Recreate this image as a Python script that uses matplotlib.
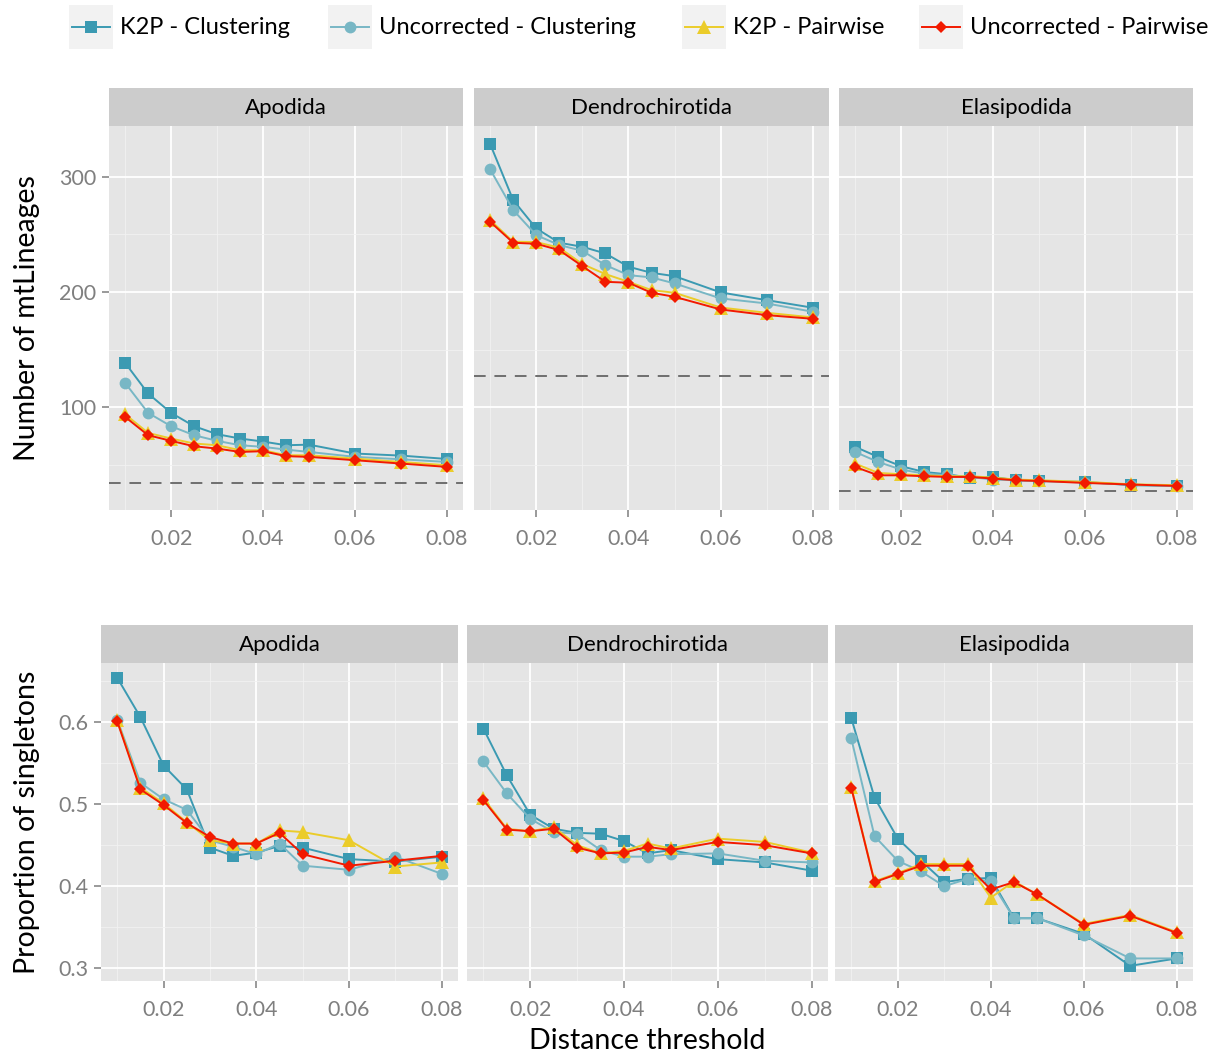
import matplotlib
matplotlib.use("Agg")
import matplotlib.pyplot as plt
from matplotlib.patches import Rectangle
from matplotlib.lines import Line2D
from matplotlib.ticker import FixedLocator

plt.rcParams['font.family'] = ['Lato', 'DejaVu Sans']

# distance thresholds
thresholds = [0.01, 0.015, 0.02, 0.025, 0.03, 0.035, 0.04, 0.045, 0.05, 0.06, 0.07, 0.08]
orders = ["Apodida", "Dendrochirotida", "Elasipodida"]
series = ["K2P - Clustering", "Uncorrected - Clustering", "K2P - Pairwise", "Uncorrected - Pairwise"]

# number of mtLineages
lin_apo_k2p_clu = [138.5, 111.9, 95.1, 83.5, 76.6, 72.8, 70.2, 67.0, 67.5, 59.8, 58.0, 55.1]
lin_apo_unc_clu = [121.1, 95.1, 83.5, 75.7, 70.8, 67.0, 65.6, 63.2, 61.2, 56.9, 54.8, 52.5]
lin_apo_k2p_pw = [93.9, 77.7, 72.8, 68.5, 67.0, 62.7, 62.7, 58.3, 58.3, 55.4, 52.5, 49.6]
lin_apo_unc_pw = [91.6, 75.7, 70.8, 66.1, 64.1, 61.2, 61.8, 57.5, 56.9, 54.0, 51.1, 48.2]

lin_den_k2p_clu = [328.4, 279.7, 255.1, 242.7, 239.2, 233.4, 221.9, 216.6, 213.7, 199.6, 192.9, 186.3]
lin_den_unc_clu = [306.4, 271.1, 249.3, 240.7, 235.7, 223.3, 214.6, 212.6, 207.4, 194.4, 190.0, 182.8]
lin_den_k2p_pw = [262.4, 243.6, 243.3, 238.4, 224.2, 215.5, 208.8, 201.6, 199.3, 186.5, 181.9, 177.9]
lin_den_unc_pw = [260.9, 242.7, 241.8, 236.3, 222.4, 208.8, 208.0, 199.3, 195.8, 184.8, 179.9, 176.7]

lin_ela_k2p_clu = [65.6, 56.9, 48.8, 43.8, 41.8, 38.9, 39.5, 36.6, 36.0, 35.2, 32.3, 31.7]
lin_ela_unc_clu = [61.2, 52.5, 45.9, 42.4, 40.9, 39.5, 37.2, 36.6, 36.0, 34.6, 32.9, 31.7]
lin_ela_k2p_pw = [51.1, 43.0, 41.8, 40.9, 40.1, 40.1, 38.9, 37.2, 36.6, 35.2, 33.1, 32.3]
lin_ela_unc_pw = [48.2, 40.9, 40.9, 40.1, 39.5, 39.5, 38.1, 36.6, 36.0, 34.3, 32.9, 31.7]

# reference number of species (dashed lines)
species_counts = [34.5, 127.0, 27.4]

# proportion of singletons
sing_apo_k2p_clu = [0.654, 0.606, 0.547, 0.518, 0.447, 0.437, 0.441, 0.449, 0.447, 0.433, 0.430, 0.436]
sing_apo_unc_clu = [0.603, 0.526, 0.506, 0.493, 0.456, 0.448, 0.439, 0.452, 0.425, 0.420, 0.436, 0.415]
sing_apo_k2p_pw = [0.602, 0.520, 0.501, 0.478, 0.456, 0.452, 0.452, 0.468, 0.466, 0.456, 0.424, 0.429]
sing_apo_unc_pw = [0.601, 0.518, 0.499, 0.477, 0.460, 0.452, 0.452, 0.465, 0.439, 0.425, 0.431, 0.437]

sing_den_k2p_clu = [0.592, 0.535, 0.487, 0.470, 0.465, 0.464, 0.455, 0.440, 0.444, 0.433, 0.429, 0.419]
sing_den_unc_clu = [0.552, 0.513, 0.482, 0.466, 0.464, 0.444, 0.436, 0.436, 0.439, 0.440, 0.431, 0.429]
sing_den_k2p_pw = [0.507, 0.470, 0.467, 0.472, 0.450, 0.440, 0.443, 0.452, 0.446, 0.458, 0.454, 0.441]
sing_den_unc_pw = [0.505, 0.469, 0.467, 0.470, 0.447, 0.440, 0.441, 0.448, 0.444, 0.454, 0.450, 0.440]

sing_ela_k2p_clu = [0.605, 0.508, 0.458, 0.431, 0.405, 0.409, 0.410, 0.361, 0.361, 0.342, 0.303, 0.312]
sing_ela_unc_clu = [0.580, 0.461, 0.431, 0.418, 0.400, 0.409, 0.406, 0.361, 0.361, 0.340, 0.312, 0.312]
sing_ela_k2p_pw = [0.521, 0.406, 0.416, 0.427, 0.427, 0.427, 0.386, 0.406, 0.390, 0.354, 0.365, 0.344]
sing_ela_unc_pw = [0.520, 0.405, 0.415, 0.425, 0.425, 0.425, 0.396, 0.405, 0.390, 0.353, 0.364, 0.343]

lineages = [
    [lin_apo_k2p_clu, lin_apo_unc_clu, lin_apo_k2p_pw, lin_apo_unc_pw],
    [lin_den_k2p_clu, lin_den_unc_clu, lin_den_k2p_pw, lin_den_unc_pw],
    [lin_ela_k2p_clu, lin_ela_unc_clu, lin_ela_k2p_pw, lin_ela_unc_pw],
]
singletons = [
    [sing_apo_k2p_clu, sing_apo_unc_clu, sing_apo_k2p_pw, sing_apo_unc_pw],
    [sing_den_k2p_clu, sing_den_unc_clu, sing_den_k2p_pw, sing_den_unc_pw],
    [sing_ela_k2p_clu, sing_ela_unc_clu, sing_ela_k2p_pw, sing_ela_unc_pw],
]

colors = ["#3B9AB2", "#78B7C5", "#EBCC2A", "#F21A00"]
markers = ["s", "o", "^", "D"]
msizes = [9.0, 8.5, 10.5, 6.5]

W, H = 1221, 1055
fig = plt.figure(figsize=(W / 100, H / 100), dpi=100)


def px_axes(x0, x1, y0, y1, **kw):
    # pixel box (top-left origin) -> figure axes
    return fig.add_axes([x0 / W, 1 - y1 / H, (x1 - x0) / W, (y1 - y0) / H], **kw)


def style_panel(ax, xlim, ylim, yticks, yminor, ylabels):
    ax.set_facecolor("#E5E5E5")
    ax.set_xlim(*xlim)
    ax.set_ylim(*ylim)
    ax.xaxis.set_major_locator(FixedLocator([0.02, 0.04, 0.06, 0.08]))
    ax.xaxis.set_minor_locator(FixedLocator([0.01, 0.03, 0.05, 0.07]))
    ax.yaxis.set_major_locator(FixedLocator(yticks))
    ax.yaxis.set_minor_locator(FixedLocator(yminor))
    ax.set_xticklabels(["0.02", "0.04", "0.06", "0.08"])
    ax.grid(which="major", color="white", linewidth=1.3)
    ax.grid(which="minor", color="#F2F2F2", linewidth=0.6)
    ax.set_axisbelow(True)
    for s in ax.spines.values():
        s.set_visible(False)
    ax.tick_params(which="major", length=5, width=1.1, color="#7F7F7F",
                   labelcolor="#7F7F7F", labelsize=15.5, pad=4)
    ax.tick_params(axis="x", which="major", pad=9)
    ax.tick_params(which="minor", length=0)
    if ylabels is None:
        ax.tick_params(axis="y", labelleft=False, length=0)
    else:
        ax.set_yticklabels(ylabels)


def strip(x0, x1, y0, y1, label):
    sa = px_axes(x0, x1, y0, y1)
    sa.set_facecolor("#CCCCCC")
    sa.set_xticks([])
    sa.set_yticks([])
    for s in sa.spines.values():
        s.set_visible(False)
    sa.text(0.5, 0.47, label, ha="center", va="center", fontsize=16, color="black")


top_x = [(109, 463), (474, 829), (839, 1193)]
bot_x = [(101, 458), (467, 828), (835, 1193)]
draw_order = [0, 1, 2, 3]

for i, order in enumerate(orders):
    # upper row: number of mtLineages
    x0, x1 = top_x[i]
    ax = px_axes(x0, x1, 126, 510)
    style_panel(ax, (0.0065, 0.0835), (10.8, 344), [100, 200, 300], [50, 150, 250],
                ["100", "200", "300"] if i == 0 else None)
    ax.axhline(species_counts[i], color="#6E6E6E", linewidth=1.4, dashes=(6, 4.5), zorder=2)
    for k in draw_order:
        ax.plot(thresholds, lineages[i][k], color=colors[k], linewidth=1.4,
                marker=markers[k], markersize=msizes[k], markeredgewidth=0, zorder=3 + k)
    strip(x0, x1, 88, 126, order)

    # lower row: proportion of singletons
    x0, x1 = bot_x[i]
    ax = px_axes(x0, x1, 663, 981)
    style_panel(ax, (0.0065, 0.0835), (0.2845, 0.672), [0.3, 0.4, 0.5, 0.6],
                [0.35, 0.45, 0.55, 0.65],
                ["0.3", "0.4", "0.5", "0.6"] if i == 0 else None)
    for k in draw_order:
        ax.plot(thresholds, singletons[i][k], color=colors[k], linewidth=1.4,
                marker=markers[k], markersize=msizes[k], markeredgewidth=0, zorder=3 + k)
    strip(x0, x1, 625, 663, order)

# axis titles
fig.text(27 / W, 1 - 318 / H, "Number of mtLineages", rotation=90, ha="center", va="center",
         fontsize=20.5)
fig.text(27 / W, 1 - 822 / H, "Proportion of singletons", rotation=90, ha="center", va="center",
         fontsize=20.5)
fig.text(647 / W, 1 - 1041 / H, "Distance threshold", ha="center", va="center", fontsize=20.5)

# legend drawn by hand, ggplot style keys
key_x = [69, 328, 682, 919]
for k, name in enumerate(series):
    kx = key_x[k]
    fig.patches.append(Rectangle((kx / W, 1 - 49 / H), 44 / W, 44 / H, transform=fig.transFigure,
                                 facecolor="#F2F2F2", edgecolor="none"))
    fig.lines.append(Line2D([(kx + 3) / W, (kx + 41) / W], [1 - 27 / H, 1 - 27 / H],
                            transform=fig.transFigure, color=colors[k], linewidth=1.4))
    fig.lines.append(Line2D([(kx + 22) / W], [1 - 27 / H], transform=fig.transFigure,
                            color=colors[k], marker=markers[k], markersize=msizes[k],
                            markeredgewidth=0, linestyle="none"))
    fig.text((kx + 51) / W, 1 - 27 / H, name, ha="left", va="center", fontsize=17)

fig.savefig("out.png", dpi=100)
